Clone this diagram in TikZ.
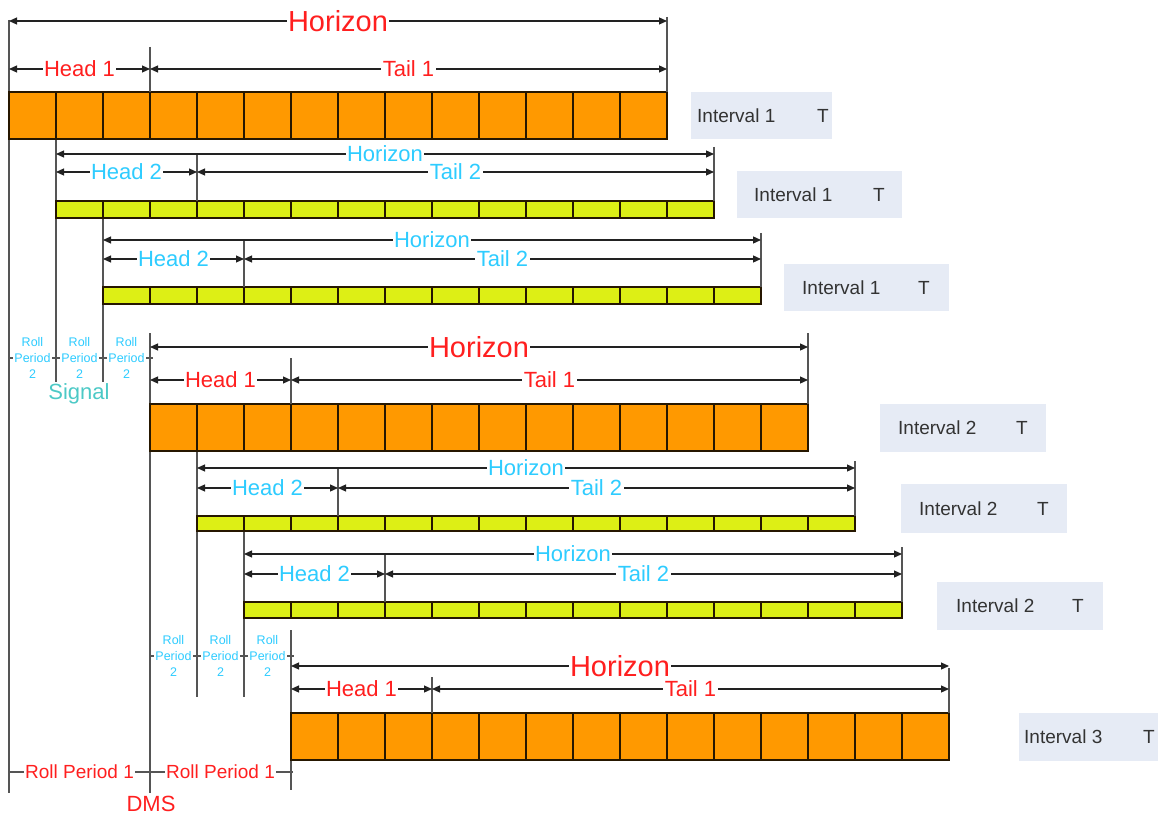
\documentclass[tikz,border=0pt]{standalone}
\usepackage{fontspec}
\setmainfont{Liberation Sans}
\usetikzlibrary{arrows.meta}
\definecolor{barO}{HTML}{FF9900}
\definecolor{barY}{HTML}{DDEF15}
\definecolor{redT}{HTML}{FF1F1F}
\definecolor{cyanT}{HTML}{2ECCFF}
\definecolor{tealT}{HTML}{4CC9C6}
\definecolor{boxF}{HTML}{E6EBF5}
\definecolor{lineG}{HTML}{555555}
\definecolor{dimC}{HTML}{222222}
\definecolor{txtG}{HTML}{333333}
\begin{document}
\begin{tikzpicture}[x=1pt,y=-1pt,
  dimline/.style={draw=dimC, line width=1.2pt, {Triangle[length=8pt,width=7pt]}-{Triangle[length=8pt,width=7pt]}},
  tickline/.style={draw=lineG, line width=1.2pt},
  vline/.style={draw=lineG, line width=1.4pt},
  cellbox/.style={draw=black!85!barO, line width=1.2pt},
  dimlabel/.style={fill=white, inner sep=1.5pt},
  ibox/.style={fill=boxF, draw=none, inner sep=0pt, anchor=north west},
  itext/.style={text=txtG, font=\fontsize{19}{19}\selectfont, inner sep=0pt, anchor=west},
  rptwo/.style={fill=white, inner sep=1pt, align=center, text=cyanT, font=\fontsize{12.5}{16}\selectfont},
  rpone/.style={fill=white, inner sep=1.5pt, text=redT, font=\fontsize{19}{19}\selectfont},
]
\useasboundingbox (0,0) rectangle (1158,818);

% long vertical guide lines
\coordinate (va1) at (9,20);    \coordinate (vb1) at (9,793);
\coordinate (va2) at (56,139);  \coordinate (vb2) at (56,382);
\coordinate (va3) at (103,218); \coordinate (vb3) at (103,382);
\coordinate (va4) at (150,333); \coordinate (vb4) at (150,793);
\coordinate (va5) at (197,451); \coordinate (vb5) at (197,697);
\coordinate (va6) at (244,531); \coordinate (vb6) at (244,697);
\coordinate (va7) at (291,630); \coordinate (vb7) at (291,790);
\foreach \k in {1,...,7} \draw[vline] (va\k) -- (vb\k);

% rows
\foreach \n/\xo/\hz/\hd/\bt/\bb/\fc/\tc/\hsz/\hn/\dt/\rt in {
  1/9/21/69/92/139/barO/redT/29/1/47/17,
  2/56/154/172/201/218/barY/cyanT/22/2/154/147,
  3/103/240/259/287/304/barY/cyanT/22/2/240/233,
  4/150/347/380/404/451/barO/redT/29/1/358/333,
  5/197/468/488/516/531/barY/cyanT/22/2/468/461,
  6/244/554/574/602/618/barY/cyanT/22/2/554/547,
  7/291/666/689/713/760/barO/redT/29/1/677/668}
{
  \pgfmathsetmacro\xe{\xo+658}
  \pgfmathsetmacro\xd{\xo+141}
  \coordinate (hzL\n) at (\xo,\hz);
  \coordinate (hzR\n) at (\xe,\hz);
  \coordinate (hdL\n) at (\xo,\hd);
  \coordinate (hdM\n) at (\xd,\hd);
  \coordinate (hdR\n) at (\xe,\hd);
  \coordinate (dvT\n) at (\xd,\dt);
  \coordinate (dvB\n) at (\xd,\bt);
  \coordinate (rtT\n) at (\xe,\rt);
  \coordinate (rtB\n) at (\xe,\bt);
  \foreach \i in {0,...,13}
    \draw[cellbox, fill=\fc] ({\xo+\i*47},\bt) rectangle ({\xo+\i*47+47},\bb);
  \draw[vline] (dvT\n) -- (dvB\n);
  \draw[vline] (rtT\n) -- (rtB\n);
  \draw[dimline] (hzL\n) -- (hzR\n)
    node[dimlabel, midway, text=\tc, font=\fontsize{\hsz}{\hsz}\selectfont] (hzlab\n) {Horizon};
  \draw[dimline] (hdL\n) -- (hdM\n)
    node[dimlabel, midway, text=\tc, font=\fontsize{22}{22}\selectfont] (hdlab\n) {Head \hn};
  \draw[dimline] (hdM\n) -- (hdR\n)
    node[dimlabel, midway, text=\tc, font=\fontsize{22}{22}\selectfont] (tllab\n) {Tail \hn};
}

% roll period 2 (upper)
\coordinate (rua) at (9,358); \coordinate (rub) at (153,358);
\draw[tickline] (rua) -- (rub);
\node[rptwo] (ru1) at (32.5,358) {Roll\\Period\\2};
\node[rptwo] (ru2) at (79.5,358) {Roll\\Period\\2};
\node[rptwo] (ru3) at (126.5,358) {Roll\\Period\\2};
\node[text=tealT, font=\fontsize{22}{22}\selectfont, inner sep=0pt] (signal) at (79,394) {Signal};

% roll period 2 (lower)
\coordinate (rla) at (150,656); \coordinate (rlb) at (294,656);
\draw[tickline] (rla) -- (rlb);
\node[rptwo] (rl1) at (173.5,656) {Roll\\Period\\2};
\node[rptwo] (rl2) at (220.5,656) {Roll\\Period\\2};
\node[rptwo] (rl3) at (267.5,656) {Roll\\Period\\2};

% roll period 1
\coordinate (r1a) at (9,772); \coordinate (r1b) at (293,772);
\draw[tickline] (r1a) -- (r1b);
\node[rpone] (rp1a) at (79.5,772) {Roll Period 1};
\node[rpone] (rp1b) at (220.5,772) {Roll Period 1};
\node[text=redT, font=\fontsize{22}{22}\selectfont, inner sep=0pt] (dms) at (151,804) {DMS};

% interval boxes
\foreach \n/\bx/\by/\bw/\bh/\tx/\ttx/\lab in {
  1/691/92/141/47/697/817/1,
  2/737/171/165/47/754/873/1,
  3/784/264/165/47/802/918/1,
  4/880/404/166/48/898/1016/2,
  5/901/484/166/49/919/1037/2,
  6/937/582/166/48/956/1072/2,
  7/1019/713/139/48/1024/1143/3}
{
  \node[ibox, minimum width=\bw pt, minimum height=\bh pt] (ib\n) at (\bx,\by) {};
  \node[itext] (it\n) at (\tx,{\by+\bh/2}) {Interval \lab};
  \node[itext] (tt\n) at (\ttx,{\by+\bh/2}) {T};
}
\end{tikzpicture}
\end{document}
